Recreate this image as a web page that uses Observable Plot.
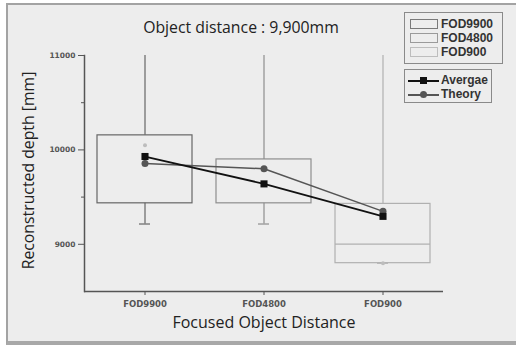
<!DOCTYPE html>
<html><head><meta charset="utf-8">
<script src="https://cdn.jsdelivr.net/npm/d3@7"></script>
<script src="https://cdn.jsdelivr.net/npm/@observablehq/plot@0.6"></script>
<style>
body{margin:0;background:#fff;}
#wrap{position:relative;width:516px;height:345px;overflow:hidden;}
#bg{position:absolute;left:6px;top:3px;width:520px;height:336px;background:#ededed;border-top:2px solid #a3a3a3;border-left:2px solid #a3a3a3;border-bottom:4px solid #a8a8a8;}
#chart{position:absolute;left:0;top:0;}
#title{position:absolute;left:0;width:482px;top:16px;text-align:center;font:15.8px "Open Sans",sans-serif;color:#222;}
.lg{position:absolute;border:1px solid #8a8a8a;box-sizing:border-box;}
.row{position:absolute;left:0;height:14px;font:bold 12px "Liberation Sans",Arial,sans-serif;color:#333;line-height:14px;}
.sw{position:absolute;left:5px;top:2px;width:28px;height:10px;box-sizing:border-box;border:1px solid;}
.lab{position:absolute;left:36px;top:0;white-space:nowrap;}
</style></head><body>
<div id="wrap"><div id="bg"></div><div id="chart"></div><div id="title"></div>
<div id="lg1" class="lg" style="left:404px;top:12px;width:99px;height:52px;"></div>
<div id="lg2" class="lg" style="left:404px;top:69px;width:88px;height:34px;"></div>
</div>
<script>
const categories = ["FOD9900", "FOD4800", "FOD900"];
const boxQ1 = [9434, 9434, 8800];
const boxQ3 = [10154, 9899, 9428];
const boxMedian = [null, null, 9002];
const whiskerLow = [9215, 9215, 8800];
const whiskerHigh = [11000, 11000, 11000];
const meanValue = [10048, 9800, 8800];
const averageValue = [9930, 9640, 9296];
const theoryValue = [9855, 9800, 9349];
const yMajorTicks = [9000, 10000, 11000];
const yMinorTicks = [9500, 10500];
const seriesNames = ["Avergae", "Theory"];
const titleText = "Object distance : 9,900mm";
const xLabel = "Focused Object Distance";
const yLabel = "Reconstructed depth [mm]";

const boxColors = ["#666666", "#8e8e8e", "#b0b0b0"];
const rows = categories.map((c, i) => ({cat: c, q1: boxQ1[i], q3: boxQ3[i], med: boxMedian[i], lo: whiskerLow[i], hi: whiskerHigh[i], mean: meanValue[i], avg: averageValue[i], th: theoryValue[i]}));

const tickFont = "DejaVu Sans";
const plot = Plot.plot({
  width: 516, height: 345,
  marginLeft: 84, marginRight: 73, marginTop: 55, marginBottom: 54,
  style: {background: "transparent", overflow: "visible"},
  x: {type: "band", domain: categories, paddingInner: 0.2, paddingOuter: 0.1, label: null},
  y: {domain: [8500, 11000], label: null},
  color: {domain: categories, range: boxColors},
  marks: [
    Plot.ruleX(rows, {x: "cat", y1: "q3", y2: "hi", stroke: "cat", strokeWidth: 1.2}),
    Plot.ruleX(rows, {x: "cat", y1: "lo", y2: "q1", stroke: "cat", strokeWidth: 1.2}),
    Plot.tickY(rows, {x: "cat", y: "lo", stroke: "cat", insetLeft: 42, insetRight: 42, strokeWidth: 1.2}),
    Plot.barY(rows, {x: "cat", y1: "q1", y2: "q3", fill: "none", stroke: "cat", strokeWidth: 1.2}),
    Plot.tickY(rows.filter(d => d.med != null), {x: "cat", y: "med", stroke: "cat", strokeWidth: 1.2}),
    Plot.dot(rows, {x: "cat", y: "mean", r: 2, fill: "#bdbdbd"}),
    Plot.line(rows, {x: "cat", y: "th", stroke: "#555", strokeWidth: 1.5}),
    Plot.dot(rows, {x: "cat", y: "th", r: 3.5, fill: "#555", symbol: "circle"}),
    Plot.line(rows, {x: "cat", y: "avg", stroke: "#111", strokeWidth: 1.8}),
    Plot.dot(rows, {x: "cat", y: "avg", r: 4, fill: "#111", symbol: "square"}),
    Plot.ruleY([8500], {stroke: "#555", strokeWidth: 1.5}),
    Plot.frame({anchor: "left", stroke: "#555", strokeWidth: 1.5}),
    Plot.axisY(yMajorTicks, {tickSize: 6, tickPadding: 3, tickFormat: "d", fontSize: 7.5, fontWeight: "bold", fontFamily: tickFont, color: "#555", label: null}),
    Plot.axisY(yMinorTicks, {tickSize: 3, tickFormat: () => "", color: "#555", label: null}),
    Plot.axisX({tickSize: 4, tickPadding: 5, fontSize: 8.5, fontWeight: "bold", fontFamily: tickFont, color: "#555", label: null}),
    Plot.text([yLabel], {frameAnchor: "left", dx: -56, dy: -3, rotate: -90, textAnchor: "middle", lineAnchor: "middle", fontSize: 15.8, fontFamily: "Open Sans", fill: "#222"}),
    Plot.text([xLabel], {frameAnchor: "bottom", dy: 31, textAnchor: "middle", lineAnchor: "middle", fontSize: 16, fontFamily: "Open Sans", fill: "#222"})
  ]
});
document.getElementById("chart").appendChild(plot);
document.getElementById("title").textContent = titleText;

// legends
const lg1 = document.getElementById("lg1");
const swStroke = ["#7a7a7a", "#9a9a9a", "#bdbdbd"];
categories.forEach((c, i) => {
  const r = document.createElement("div");
  r.className = "row"; r.style.top = (4 + i * 14) + "px"; r.style.width = "97px";
  r.innerHTML = `<div class="sw" style="border-color:${swStroke[i]}"></div><div class="lab">${c}</div>`;
  lg1.appendChild(r);
});
const lg2 = document.getElementById("lg2");
const lineCol = ["#111", "#555"];
seriesNames.forEach((s, i) => {
  const r = document.createElement("div");
  r.className = "row"; r.style.top = (3 + i * 14) + "px"; r.style.width = "86px";
  const marker = i === 0 ? `<div style="position:absolute;left:15px;top:4px;width:7px;height:7px;background:${lineCol[i]}"></div>`
                         : `<div style="position:absolute;left:15px;top:4px;width:7px;height:7px;border-radius:50%;background:${lineCol[i]}"></div>`;
  r.innerHTML = `<div style="position:absolute;left:3px;top:7px;width:31px;height:1.5px;background:${lineCol[i]}"></div>${marker}<div class="lab">${s}</div>`;
  lg2.appendChild(r);
});
</script>
</body></html>
